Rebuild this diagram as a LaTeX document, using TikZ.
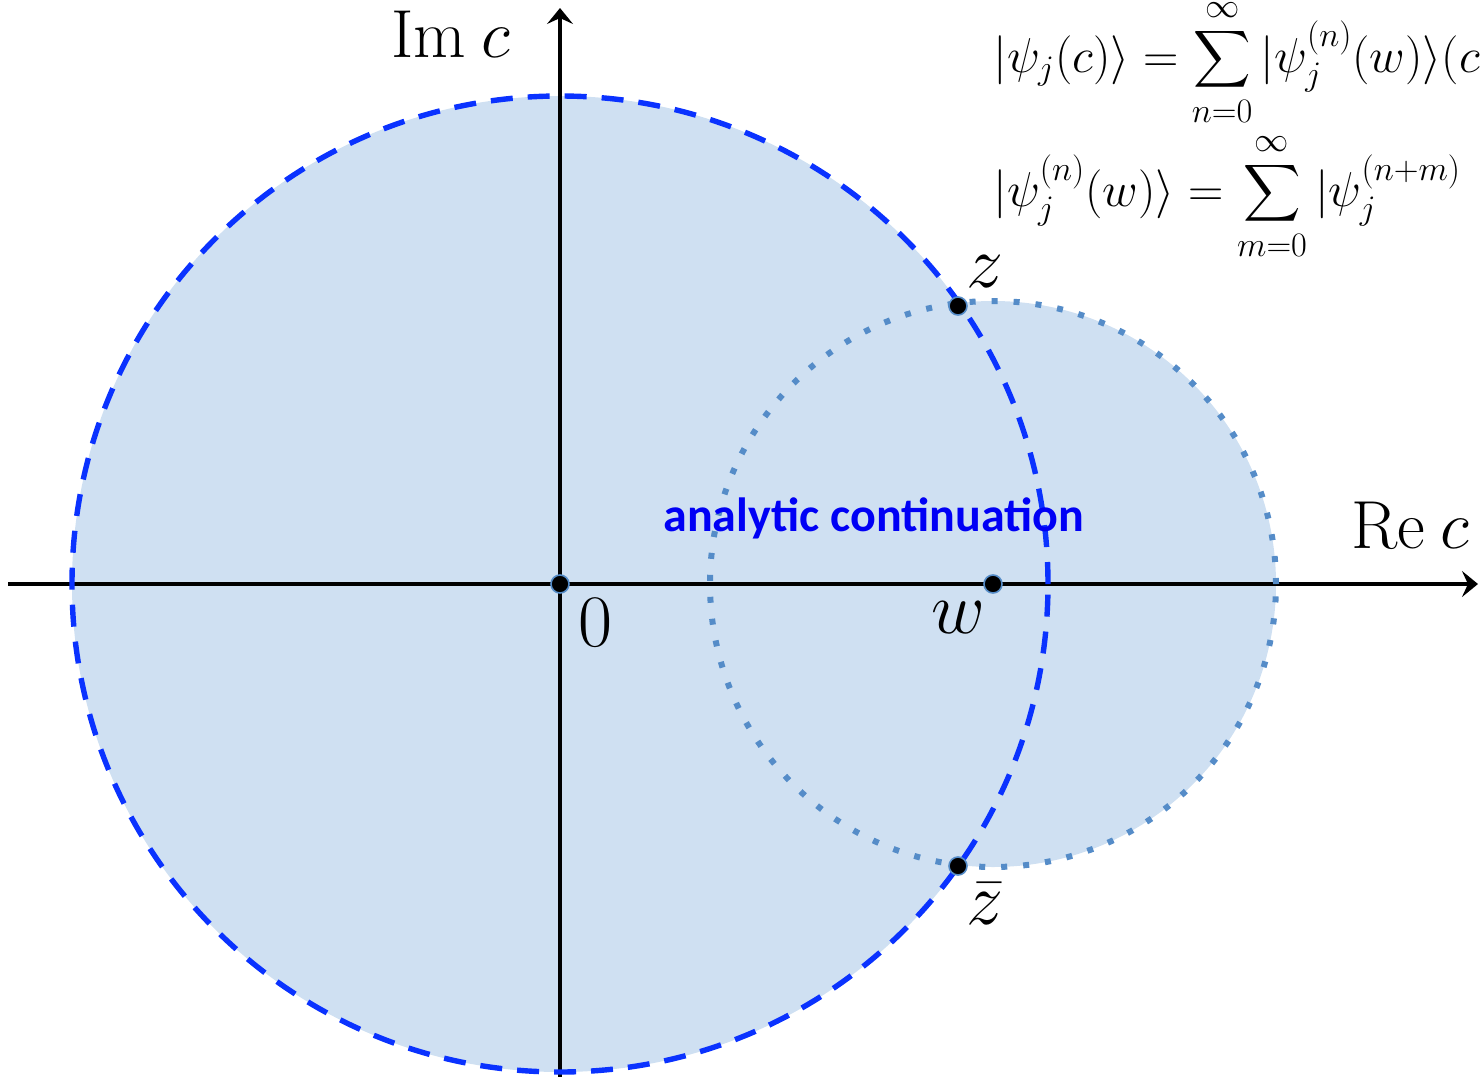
\RequirePackage{fix-cm}
\documentclass[tikz,border=0pt]{standalone}
\usepackage{amsmath}
\usepackage{graphicx}
\usepackage{fontspec}
\newfontfamily\calfont{Carlito}
\usetikzlibrary{arrows.meta}
\definecolor{fillblue}{RGB}{207,224,242}
\definecolor{dashblue}{RGB}{10,50,255}
\definecolor{dotblue}{RGB}{85,140,200}
\definecolor{txtblue}{RGB}{0,0,245}
\newcommand{\bigsum}{\mathop{\vcenter{\hbox{\scalebox{0.8}{$\displaystyle\sum$}}}}\limits}
\begin{document}
\begin{tikzpicture}[x=0.5pt,y=-0.5pt,
  bigcirc/.style={draw=dashblue,line width=2.7pt,dash pattern=on 11pt off 7.5pt},
  smallcirc/.style={draw=dotblue,line width=3pt,dash pattern=on 3pt off 8pt},
  axisline/.style={line width=2pt,-{Stealth[length=8pt,width=13pt,inset=3pt]}},
  pointdot/.style={circle,fill=black,draw=dotblue,line width=0.8pt,minimum size=9pt,inner sep=0pt},
  biglabel/.style={inner sep=0pt,font=\fontsize{37}{44}\selectfont},
  axislabel/.style={inner sep=0pt,anchor=base west,font=\fontsize{34}{40}\selectfont},
  eqlabel/.style={inner sep=0pt,anchor=base west,font=\fontsize{24.5}{29}\selectfont},
  contlabel/.style={inner sep=0pt,anchor=base west,text=txtblue,font=\calfont\bfseries\fontsize{24}{28}\selectfont}]
\useasboundingbox (0,0) rectangle (1480,1077);
\clip (0,0) rectangle (1480,1077);
% filled union of discs
\fill[fillblue] (560,584) circle[radius=244pt];
\fill[fillblue] (993,584) circle[radius=141.5pt];
% axes
\coordinate (xs) at (8,584);
\coordinate (xe) at (1478,584);
\coordinate (ys) at (560,1080);
\coordinate (ye) at (560,8);
\draw[axisline] (xs) -- (xe);
\draw[axisline] (ys) -- (ye);
% circles
\draw[bigcirc] (560,584) circle[radius=244pt];
\draw[smallcirc] (993,584) circle[radius=141.5pt];
% points
\node[pointdot] (O) at (560,584) {};
\node[pointdot] (W) at (993,584) {};
\node[pointdot] (Z) at (958,306) {};
\node[pointdot] (Zb) at (958,866) {};
% labels
\node[biglabel] (l0) at (595,623) {$0$};
\node[biglabel] (lw) at (958,618) {$w$};
\node[biglabel] (lz) at (985,272) {$z$};
\node[biglabel] (lzb) at (985,904) {$\bar z$};
\node[axislabel] (im) at (391,57) {$\mathrm{Im}\mskip4mu c$};
\node[axislabel] (re) at (1351,548) {$\mathrm{Re}\mskip4mu c$};
\node[contlabel] (ac) at (663,531) {analytic continuation};
% equations
\node[eqlabel] (eq1) at (993,72) {$|\psi_j(c)\rangle = \bigsum_{n=0}^{\infty}|\psi_j^{(n)}(w)\rangle(c$};
\node[eqlabel] (eq2) at (993,206) {$|\psi_j^{(n)}(w)\rangle = \bigsum_{m=0}^{\infty}|\psi_j^{(n+m)}$};
\end{tikzpicture}
\end{document}
